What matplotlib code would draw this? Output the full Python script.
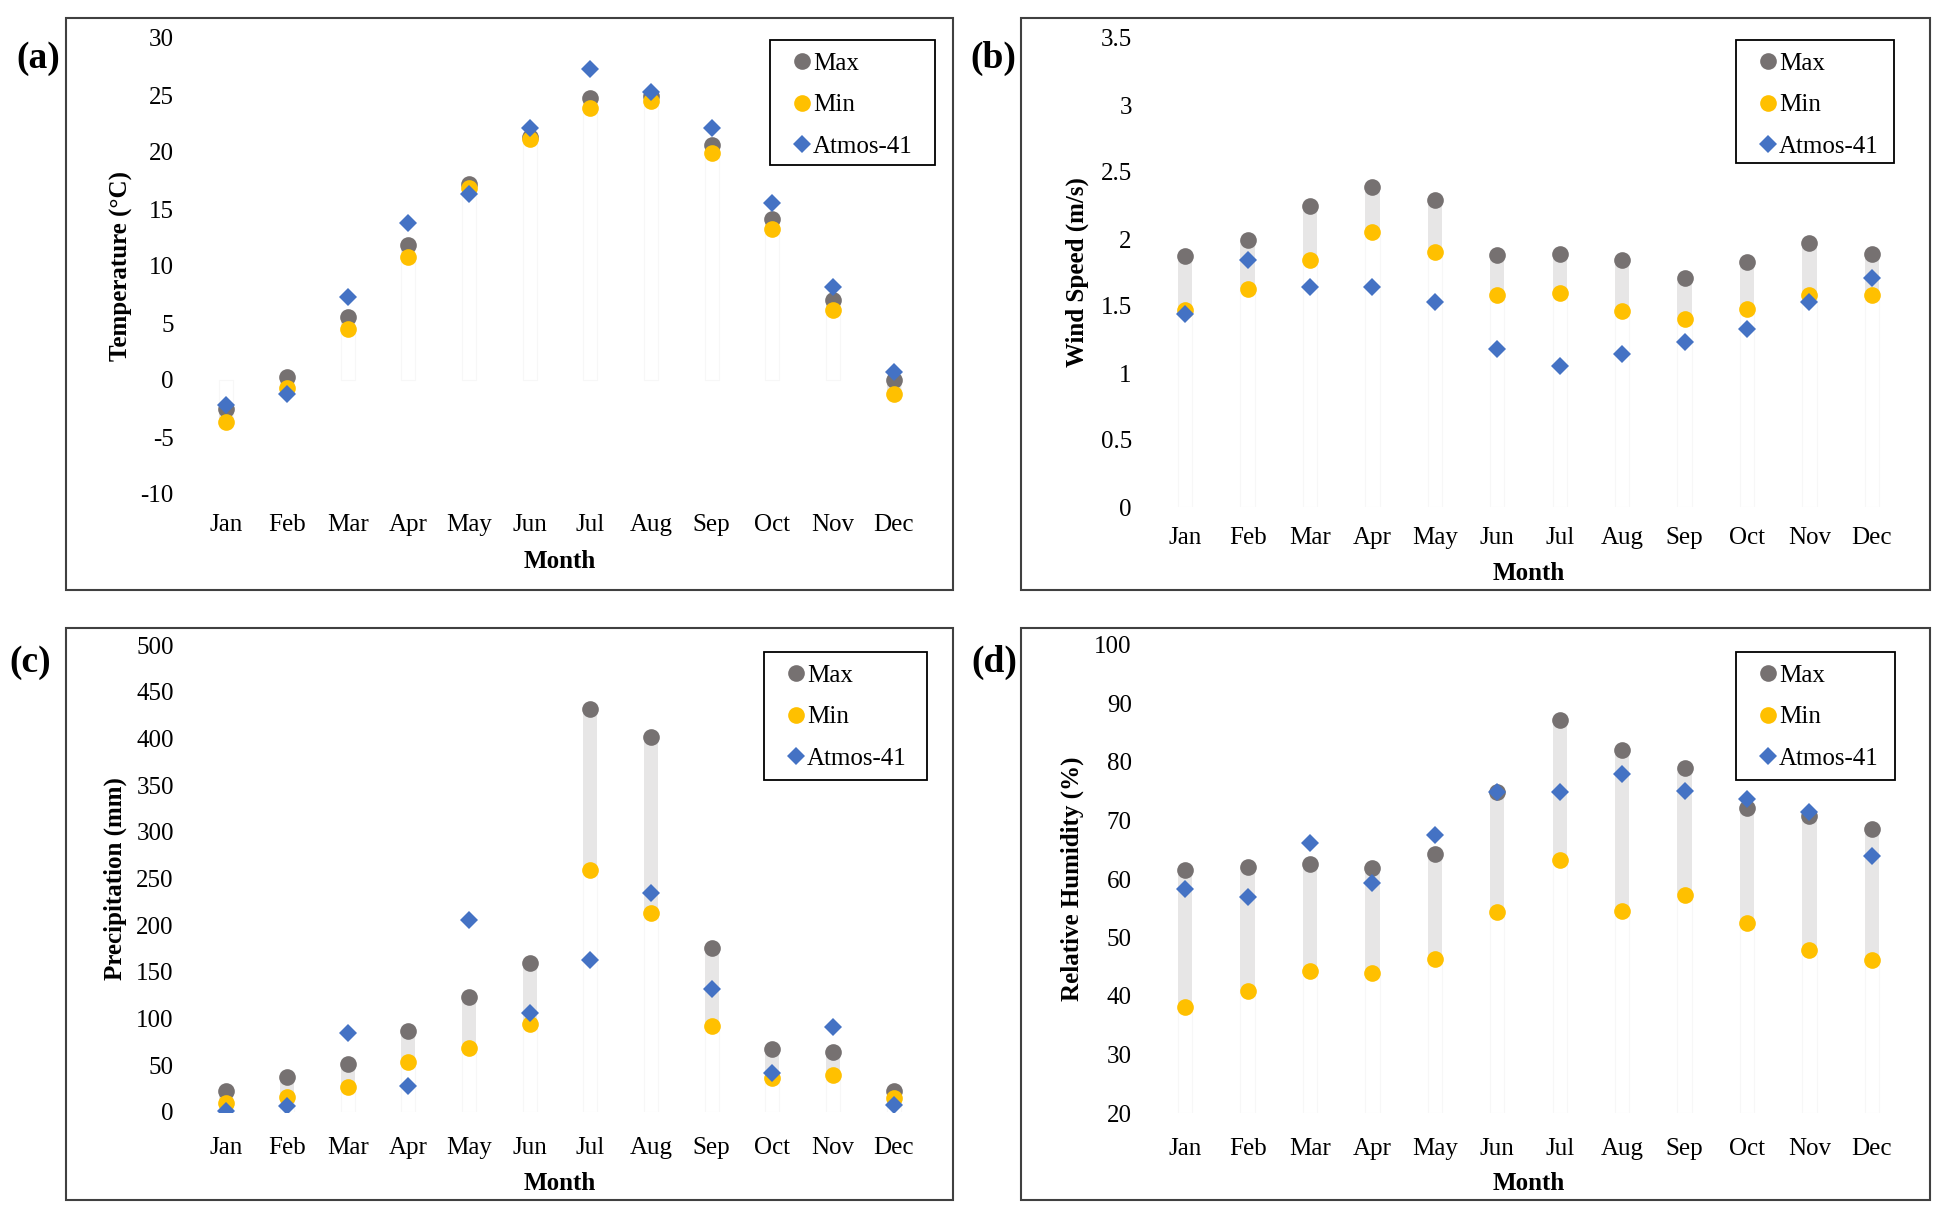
import matplotlib
matplotlib.use("Agg")
import matplotlib.pyplot as plt
from matplotlib.patches import Rectangle
from matplotlib.ticker import MultipleLocator, FuncFormatter
import numpy as np

months = ["Jan", "Feb", "Mar", "Apr", "May", "Jun", "Jul", "Aug", "Sep", "Oct", "Nov", "Dec"]

temp_max = [-2.5, 0.3, 5.5, 11.85, 17.2, 21.3, 24.7, 24.9, 20.6, 14.1, 7.05, 0.0]
temp_min = [-3.7, -0.7, 4.45, 10.75, 16.8, 21.1, 23.9, 24.5, 19.9, 13.25, 6.1, -1.25]
temp_atm = [-2.2, -1.2, 7.25, 13.8, 16.3, 22.1, 27.3, 25.3, 22.1, 15.5, 8.2, 0.7]

wind_max = [1.87, 1.99, 2.25, 2.39, 2.29, 1.88, 1.89, 1.84, 1.71, 1.83, 1.97, 1.89]
wind_min = [1.47, 1.63, 1.84, 2.05, 1.90, 1.58, 1.60, 1.46, 1.40, 1.48, 1.58, 1.58]
wind_atm = [1.44, 1.84, 1.64, 1.64, 1.53, 1.18, 1.05, 1.14, 1.23, 1.33, 1.53, 1.71]

prec_max = [23, 37, 51, 87, 123, 159, 432, 402, 176, 67, 64, 22]
prec_min = [10, 16, 27, 53, 69, 94, 259, 213, 92, 36, 40, 15]
prec_atm = [1, 6, 85, 28, 206, 106, 163, 234, 132, 42, 91, 8]

rh_max = [61.5, 62.0, 62.5, 61.8, 64.2, 74.9, 87.2, 82.1, 79.0, 72.2, 70.7, 68.6]
rh_min = [38.2, 40.9, 44.2, 43.9, 46.3, 54.3, 63.3, 54.6, 57.3, 52.4, 47.9, 46.2]
rh_atm = [58.3, 56.9, 66.2, 59.4, 67.5, 74.9, 74.8, 78.0, 75.1, 73.6, 71.5, 64.0]

series_labels = ["Max", "Min", "Atmos-41"]
panel_letters = ["(a)", "(b)", "(c)", "(d)"]
ylabels = ["Temperature (\u00b0C)", "Wind Speed (m/s)", "Precipitation (mm)", "Relative Humidity (%)"]
ylims = [(-10, 30), (0, 3.5), (0, 500), (20, 100)]
ysteps = [5, 0.5, 50, 10]

plt.rcParams['font.family'] = ['Liberation Serif', 'DejaVu Serif']

W, H = 1941, 1217
fig = plt.figure(figsize=(W / 100, H / 100), dpi=100)


def fx(px):
    return px / W


def fy(py):
    return 1 - py / H


# pixel layouts
layouts = [
    dict(ax=(196, 924, 38, 494), frame=(66, 953, 18, 590), leg=(770, 935, 40, 165),
         let=(38, 58), xl=568, ylx=121, xpad=14.5),
    dict(ax=(1154, 1903, 38, 507), frame=(1021, 1930, 18, 590), leg=(1736, 1894, 40, 163),
         let=(993, 58), xl=580, ylx=1077, xpad=14.5),
    dict(ax=(196, 924, 645, 1112), frame=(66, 953, 628, 1200), leg=(764, 927, 652, 780),
         let=(30, 662), xl=1190, ylx=115, xpad=18),
    dict(ax=(1154, 1903, 645, 1113), frame=(1021, 1930, 628, 1200), leg=(1736, 1895, 652, 780),
         let=(994, 662), xl=1190, ylx=1072, xpad=18),
]

data = [
    (temp_max, temp_min, temp_atm),
    (wind_max, wind_min, wind_atm),
    (prec_max, prec_min, prec_atm),
    (rh_max, rh_min, rh_atm),
]

c_max = '#767171'
c_min = '#FFC000'
c_atm = '#4472C4'
fs = 18

for i, (mx, mn, at) in enumerate(data):
    L = layouts[i]
    l, r, t, b = L['ax']
    ax = fig.add_axes([fx(l), fy(b), (r - l) / W, (b - t) / H])
    x = np.arange(1, 13)
    mx = np.array(mx, float)
    mn = np.array(mn, float)
    y0, y1 = ylims[i]
    base = max(y0, 0)
    # faint base columns
    ax.bar(x, mn - base, bottom=base, width=0.23, facecolor='none',
           edgecolor='#F7F7F7', linewidth=0.8, zorder=1)
    # range columns
    ax.bar(x, mx - mn, bottom=mn, width=0.23, color='#E7E6E6', linewidth=0, zorder=2)
    ax.plot(x, mx, 'o', color=c_max, ms=12, mew=0, zorder=3, label=series_labels[0])
    ax.plot(x, mn, 'o', color=c_min, ms=12, mew=0, zorder=4, label=series_labels[1])
    ax.plot(x, at, 'D', color=c_atm, ms=9.5, mew=0, zorder=5, label=series_labels[2])

    ax.set_xlim(0.5, 12.5)
    ax.set_ylim(y0, y1)
    ax.yaxis.set_major_locator(MultipleLocator(ysteps[i]))
    ax.yaxis.set_major_formatter(FuncFormatter(lambda v, p: f"{v:g}"))
    ax.set_xticks(x)
    ax.set_xticklabels(months)
    for s in ax.spines.values():
        s.set_visible(False)
    ax.tick_params(axis='both', length=0, labelsize=fs, colors='black')
    ax.tick_params(axis='y', pad=16)
    ax.tick_params(axis='x', pad=L['xpad'])

    ax.set_xlabel("Month", fontsize=fs, fontweight='bold')
    ax.xaxis.set_label_coords(0.5, (b - L['xl']) / (b - t))
    ax.xaxis.label.set_verticalalignment('baseline')
    ax.set_ylabel(ylabels[i], fontsize=fs, fontweight='bold')
    ax.yaxis.set_label_coords((L['ylx'] - l) / (r - l), 0.5)
    ax.yaxis.label.set_verticalalignment('center')

    bl, br, bt, bb = L['leg']
    ax.legend(loc='upper left', bbox_to_anchor=(fx(bl + 19.5), fy(bt + 12)),
              bbox_transform=fig.transFigure, borderaxespad=0, borderpad=0,
              frameon=False, fontsize=fs, labelspacing=0.77, handlelength=1.0,
              handletextpad=-0.06)
    fig.add_artist(Rectangle((fx(bl), fy(bb)), (br - bl) / W, (bb - bt) / H,
                             transform=fig.transFigure, fill=False,
                             edgecolor='black', linewidth=1.3))

    x0, x1, fy0, fy1 = L['frame']
    fig.add_artist(Rectangle((fx(x0), fy(fy1)), (x1 - x0) / W, (fy1 - fy0) / H,
                             transform=fig.transFigure, fill=False,
                             edgecolor='#404040', linewidth=1.5))
    fig.text(fx(L['let'][0]), fy(L['let'][1]), panel_letters[i], fontsize=27,
             fontweight='bold', ha='center', va='center')

fig.savefig("out.png", dpi=100, facecolor='white')
